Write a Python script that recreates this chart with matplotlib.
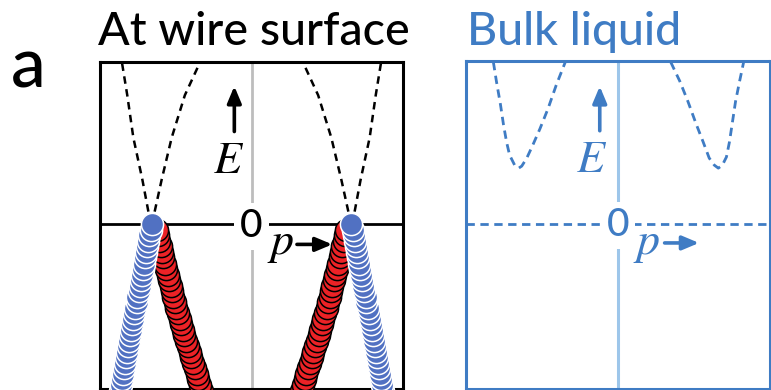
import matplotlib
matplotlib.use('Agg')
import matplotlib.pyplot as plt

plt.rcParams['mathtext.fontset'] = 'stix'

# --- data (p horizontal, E vertical, arbitrary units) ---
# energies of the dot chains (top -> bottom)
E_dots = [0.00, -0.06, -0.11, -0.17, -0.22, -0.28, -0.33, -0.39, -0.44, -0.50,
          -0.55, -0.61, -0.66, -0.72, -0.77, -0.83, -0.88, -0.94, -0.99, -1.05,
          -1.10, -1.16, -1.21, -1.27, -1.32, -1.38, -1.43, -1.49, -1.54, -1.60, -1.65]
p_blue_left = [-0.99, -1.00, -1.01, -1.02, -1.03, -1.04, -1.05, -1.06, -1.07, -1.08,
               -1.09, -1.10, -1.11, -1.13, -1.13, -1.15, -1.16, -1.17, -1.18, -1.19,
               -1.20, -1.21, -1.22, -1.23, -1.24, -1.25, -1.26, -1.27, -1.28, -1.29, -1.30]
p_blue_right = [0.99, 1.00, 1.01, 1.02, 1.03, 1.04, 1.05, 1.06, 1.07, 1.08,
                1.09, 1.10, 1.11, 1.13, 1.13, 1.15, 1.16, 1.17, 1.18, 1.19,
                1.20, 1.21, 1.22, 1.23, 1.24, 1.25, 1.26, 1.27, 1.28, 1.29, 1.30]
E_red = E_dots[1:]
p_red_left = [-0.94, -0.93, -0.92, -0.90, -0.89, -0.88, -0.86, -0.85, -0.83, -0.82,
              -0.80, -0.79, -0.78, -0.76, -0.75, -0.73, -0.71, -0.70, -0.68, -0.67,
              -0.65, -0.63, -0.61, -0.60, -0.58, -0.56, -0.54, -0.53, -0.51, -0.49]
p_red_right = [0.94, 0.93, 0.92, 0.90, 0.89, 0.88, 0.86, 0.85, 0.83, 0.82,
               0.80, 0.79, 0.78, 0.76, 0.75, 0.73, 0.71, 0.70, 0.68, 0.67,
               0.65, 0.63, 0.61, 0.60, 0.58, 0.56, 0.54, 0.53, 0.51, 0.49]

# dashed branches above the Dirac points (surface)
E_branch = [0.00, 0.12, 0.44, 0.86, 1.28, 1.65]
p_branch_LL = [-0.99, -1.02, -1.08, -1.17, -1.23, -1.29]
p_branch_LR = [-0.99, -0.96, -0.89, -0.79, -0.66, -0.49]
p_branch_RL = [0.99, 0.96, 0.89, 0.79, 0.66, 0.49]
p_branch_RR = [0.99, 1.02, 1.08, 1.17, 1.23, 1.29]

# bulk roton-like dips
p_dip_left = [-1.23, -1.20, -1.16, -1.13, -1.10, -1.07, -1.02, -0.98, -0.95, -0.90,
              -0.84, -0.77, -0.69, -0.61, -0.52]
E_dip_left = [1.60, 1.41, 1.18, 0.98, 0.81, 0.68, 0.58, 0.55, 0.57, 0.65,
              0.78, 0.94, 1.14, 1.37, 1.60]
p_dip_right = [0.52, 0.61, 0.69, 0.77, 0.84, 0.90, 0.95, 0.99, 1.03, 1.07,
               1.10, 1.13, 1.16, 1.20, 1.24]
E_dip_right = [1.60, 1.41, 1.21, 0.99, 0.81, 0.65, 0.58, 0.55, 0.58, 0.66,
               0.81, 1.01, 1.21, 1.41, 1.60]

BLUE_DOT = '#5171C2'
RED_DOT = '#EC2226'
BULK = '#3F7CC4'
BULK_LIGHT = '#9DC6EA'
SANS = ['Lato', 'DejaVu Sans']

fig = plt.figure(figsize=(7.71, 3.90), dpi=100)
ax1 = fig.add_axes([100/771, 1.5/390, 303/771, 326.5/390])
ax2 = fig.add_axes([466/771, 1.5/390, 304/771, 327.5/390])

for ax in (ax1, ax2):
    ax.set_xlim(-1.5, 1.5)
    ax.set_ylim(-1.63, 1.61)
    ax.set_xticks([])
    ax.set_yticks([])
for sp in ax1.spines.values():
    sp.set_linewidth(2.2)
    sp.set_color('black')
for sp in ax2.spines.values():
    sp.set_linewidth(2.2)
    sp.set_color(BULK)

arrow_style = '-|>,head_length=1.0,head_width=0.42'

# ---- left panel: at wire surface ----
ax1.axvline(0, color='#BDBDBD', lw=2.0, zorder=1)
ax1.axhline(0, color='black', lw=2.0, zorder=1)
dash = (0, (3.0, 2.2))
for pb in (p_branch_LL, p_branch_LR, p_branch_RL, p_branch_RR):
    ax1.plot(pb, E_branch, color='black', lw=1.8, linestyle=dash, zorder=2)

ms = 255
ax1.scatter(p_red_left[::-1], E_red[::-1], s=ms, color=RED_DOT,
            edgecolors='black', linewidths=1.1, zorder=3)
ax1.scatter(p_red_right[::-1], E_red[::-1], s=ms, color=RED_DOT,
            edgecolors='black', linewidths=1.1, zorder=3)
ax1.scatter(p_blue_left[::-1], E_dots[::-1], s=ms, color=BLUE_DOT,
            edgecolors='white', linewidths=1.1, zorder=4)
ax1.scatter(p_blue_right[::-1], E_dots[::-1], s=ms, color=BLUE_DOT,
            edgecolors='white', linewidths=1.1, zorder=4)

ax1.text(0, -0.02, '0', ha='center', va='center', fontsize=28, family=SANS,
         fontweight='medium', color='black', zorder=5,
         bbox=dict(boxstyle='square,pad=0.15', fc='white', ec='none'))
ax1.annotate('', xy=(-0.17, 1.37), xytext=(-0.17, 0.92),
             arrowprops=dict(arrowstyle=arrow_style, color='black', lw=2.6,
                             shrinkA=0, shrinkB=0))
ax1.text(-0.23, 0.51, r'$E$', ha='center', va='baseline', fontsize=33,
         color='black')
ax1.annotate('', xy=(0.80, -0.20), xytext=(0.45, -0.20),
             arrowprops=dict(arrowstyle=arrow_style, color='black', lw=2.6,
                             shrinkA=0, shrinkB=0))
ax1.text(0.29, -0.30, r'$p$', ha='center', va='baseline', fontsize=33,
         color='black')

# ---- right panel: bulk liquid ----
bdash = (0, (3.0, 2.0))
ax2.axvline(0, color=BULK_LIGHT, lw=2.2, zorder=1)
ax2.axhline(0, color=BULK, lw=2.0, linestyle=bdash, zorder=1)
ax2.plot(p_dip_left, E_dip_left, color=BULK, lw=2.0, linestyle=bdash, zorder=2)
ax2.plot(p_dip_right, E_dip_right, color=BULK, lw=2.0, linestyle=bdash, zorder=2)
ax2.text(0, -0.02, '0', ha='center', va='center', fontsize=28, family=SANS,
         fontweight='medium', color=BULK, zorder=5,
         bbox=dict(boxstyle='square,pad=0.15', fc='white', ec='none'))
ax2.annotate('', xy=(-0.18, 1.36), xytext=(-0.18, 0.92),
             arrowprops=dict(arrowstyle=arrow_style, color=BULK, lw=2.6,
                             shrinkA=0, shrinkB=0))
ax2.text(-0.26, 0.51, r'$E$', ha='center', va='baseline', fontsize=33,
         color=BULK)
ax2.annotate('', xy=(0.80, -0.19), xytext=(0.46, -0.19),
             arrowprops=dict(arrowstyle=arrow_style, color=BULK, lw=2.6,
                             shrinkA=0, shrinkB=0))
ax2.text(0.285, -0.30, r'$p$', ha='center', va='baseline', fontsize=33,
         color=BULK)

# ---- titles ----
fig.text(98/771, 1 - 45/390, 'At wire surface', ha='left', va='baseline',
         fontsize=33.5, family=SANS, fontweight='medium', color='black')
fig.text(467/771, 1 - 45/390, 'Bulk liquid', ha='left', va='baseline',
         fontsize=33.5, family=SANS, fontweight='medium', color=BULK)
fig.text(11/771, 1 - 87/390, 'a', ha='left', va='baseline',
         fontsize=50, family=SANS, fontweight='medium', color='black')

fig.savefig('out.png', dpi=100)
